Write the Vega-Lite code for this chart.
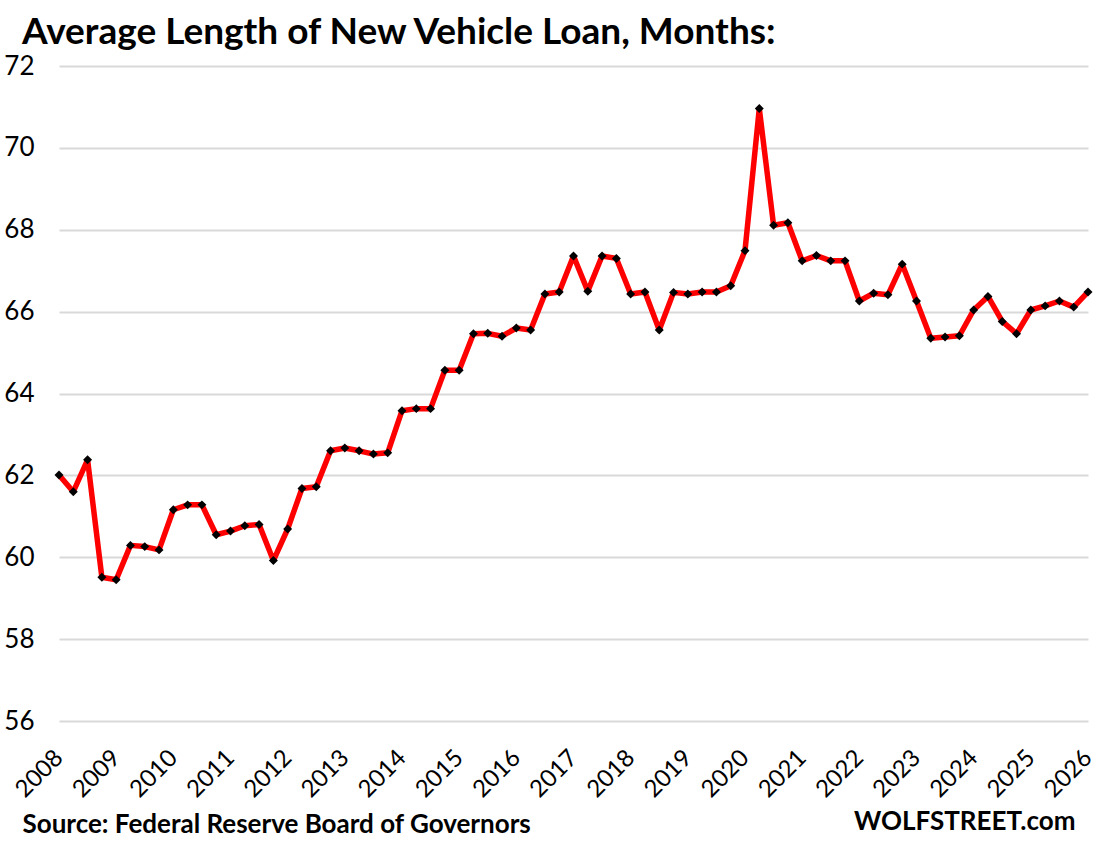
{
  "$schema": "https://vega.github.io/schema/vega-lite/v6.json",
  "width": 1029,
  "height": 655,
  "autosize": {"type": "none"},
  "padding": {"left": 59, "top": 66, "right": 10, "bottom": 122},
  "background": "white",
  "config": {"view": {"stroke": null}, "font": "Lato"},
  "title": {
    "text": "Average Length of New Vehicle Loan, Months:",
    "anchor": "start",
    "frame": "group",
    "dx": -37,
    "font": "Lato",
    "fontSize": 37,
    "fontWeight": "bold",
    "color": "black",
    "offset": 1
  },
  "data": {
    "values": [
      {"t": 2008.00, "v": 62.01}, {"t": 2008.25, "v": 61.60}, {"t": 2008.50, "v": 62.38}, {"t": 2008.75, "v": 59.51},
      {"t": 2009.00, "v": 59.45}, {"t": 2009.25, "v": 60.29}, {"t": 2009.50, "v": 60.26}, {"t": 2009.75, "v": 60.18},
      {"t": 2010.00, "v": 61.16}, {"t": 2010.25, "v": 61.28}, {"t": 2010.50, "v": 61.28}, {"t": 2010.75, "v": 60.55},
      {"t": 2011.00, "v": 60.64}, {"t": 2011.25, "v": 60.77}, {"t": 2011.50, "v": 60.80}, {"t": 2011.75, "v": 59.92},
      {"t": 2012.00, "v": 60.69}, {"t": 2012.25, "v": 61.68}, {"t": 2012.50, "v": 61.72}, {"t": 2012.75, "v": 62.60},
      {"t": 2013.00, "v": 62.67}, {"t": 2013.25, "v": 62.60}, {"t": 2013.50, "v": 62.52}, {"t": 2013.75, "v": 62.55},
      {"t": 2014.00, "v": 63.58}, {"t": 2014.25, "v": 63.63}, {"t": 2014.50, "v": 63.63}, {"t": 2014.75, "v": 64.57},
      {"t": 2015.00, "v": 64.57}, {"t": 2015.25, "v": 65.46}, {"t": 2015.50, "v": 65.47}, {"t": 2015.75, "v": 65.40},
      {"t": 2016.00, "v": 65.60}, {"t": 2016.25, "v": 65.55}, {"t": 2016.50, "v": 66.43}, {"t": 2016.75, "v": 66.48},
      {"t": 2017.00, "v": 67.36}, {"t": 2017.25, "v": 66.50}, {"t": 2017.50, "v": 67.36}, {"t": 2017.75, "v": 67.30},
      {"t": 2018.00, "v": 66.43}, {"t": 2018.25, "v": 66.48}, {"t": 2018.50, "v": 65.55}, {"t": 2018.75, "v": 66.47},
      {"t": 2019.00, "v": 66.43}, {"t": 2019.25, "v": 66.48}, {"t": 2019.50, "v": 66.48}, {"t": 2019.75, "v": 66.63},
      {"t": 2020.00, "v": 67.49}, {"t": 2020.25, "v": 70.96}, {"t": 2020.50, "v": 68.11}, {"t": 2020.75, "v": 68.17},
      {"t": 2021.00, "v": 67.24}, {"t": 2021.25, "v": 67.37}, {"t": 2021.50, "v": 67.24}, {"t": 2021.75, "v": 67.24},
      {"t": 2022.00, "v": 66.26}, {"t": 2022.25, "v": 66.45}, {"t": 2022.50, "v": 66.41}, {"t": 2022.75, "v": 67.16},
      {"t": 2023.00, "v": 66.26}, {"t": 2023.25, "v": 65.35}, {"t": 2023.50, "v": 65.38}, {"t": 2023.75, "v": 65.41},
      {"t": 2024.00, "v": 66.04}, {"t": 2024.25, "v": 66.37}, {"t": 2024.50, "v": 65.76}, {"t": 2024.75, "v": 65.46},
      {"t": 2025.00, "v": 66.04}, {"t": 2025.25, "v": 66.14}, {"t": 2025.50, "v": 66.26}, {"t": 2025.75, "v": 66.11},
      {"t": 2026.00, "v": 66.48}
    ]
  },
  "encoding": {
    "x": {
      "field": "t",
      "type": "quantitative",
      "scale": {"domain": [2008, 2026], "nice": false, "zero": false},
      "axis": {
        "values": [2008, 2009, 2010, 2011, 2012, 2013, 2014, 2015, 2016, 2017, 2018, 2019, 2020, 2021, 2022, 2023, 2024, 2025, 2026],
        "format": "d",
        "grid": false,
        "domain": false,
        "ticks": false,
        "labelAngle": -45,
        "labelAlign": "right",
        "labelBaseline": "middle",
        "labelFont": "Lato",
        "labelFontSize": 24,
        "labelColor": "black",
        "labelPadding": 33,
        "labelOverlap": false,
        "labelFlush": false,
        "title": "Source: Federal Reserve Board of Governors",
        "titleFont": "Lato",
        "titleFontSize": 26,
        "titleFontWeight": "bold",
        "titleColor": "black",
        "titleAlign": "left",
        "titleBaseline": "alphabetic",
        "titleX": -37,
        "titleY": 111
      }
    },
    "y": {
      "field": "v",
      "type": "quantitative",
      "scale": {"domain": [56, 72], "nice": false, "zero": false},
      "axis": {
        "values": [56, 58, 60, 62, 64, 66, 68, 70, 72],
        "grid": true,
        "gridColor": "#d9d9d9",
        "gridWidth": 2,
        "domain": false,
        "ticks": false,
        "labelFont": "Lato",
        "labelFontSize": 26,
        "labelColor": "black",
        "labelPadding": 25,
        "title": "WOLFSTREET.com",
        "titleFont": "Lato",
        "titleFontSize": 26,
        "titleFontWeight": "bold",
        "titleColor": "black",
        "titleAngle": 0,
        "titleAlign": "right",
        "titleBaseline": "alphabetic",
        "titleX": 1016,
        "titleY": 763
      }
    }
  },
  "layer": [
    {"mark": {"type": "line", "color": "#ff0000", "strokeWidth": 5.5, "strokeJoin": "round"}},
    {"mark": {"type": "point", "shape": "diamond", "filled": true, "color": "black", "size": 80, "opacity": 1}}
  ]
}
